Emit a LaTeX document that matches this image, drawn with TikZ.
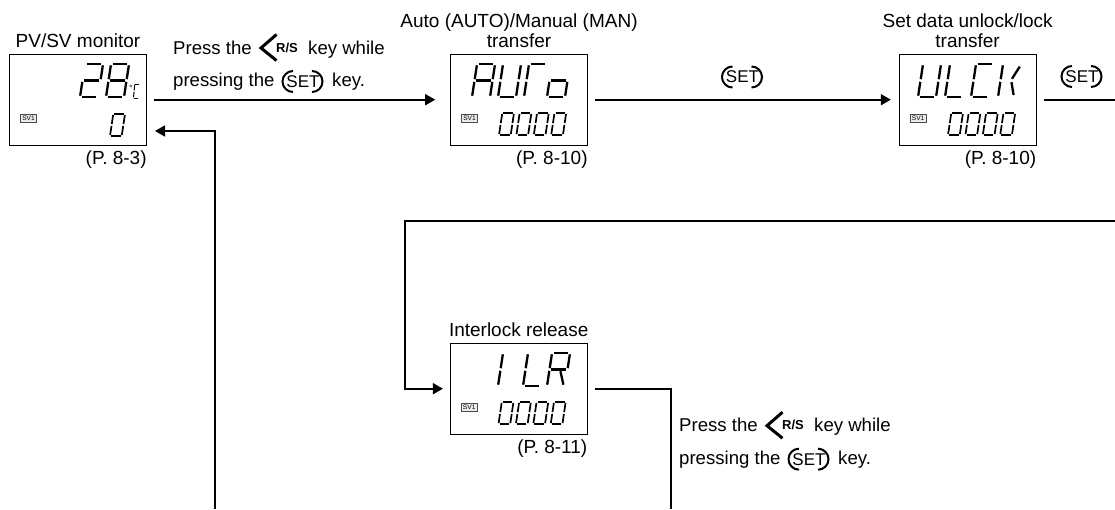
\documentclass[tikz,border=0pt]{standalone}
\usepackage{fontspec}
\setmainfont{Liberation Sans}
\usetikzlibrary{positioning, arrows.meta}

\tikzset{
    lcdbox/.style={draw, line width=0.9pt, minimum width=136.7pt, minimum height=91pt, inner sep=0pt},
    svbadge/.style={draw=black!70, fill=black!8, line width=0.7pt, minimum width=16.5pt, minimum height=8.5pt, inner sep=0pt, anchor=north west, font=\fontsize{6.6}{7}\selectfont},
    title/.style={inner sep=0pt, align=center, font=\fontsize{19}{20}\selectfont},
    pageref/.style={inner sep=0pt, font=\fontsize{19}{20}\selectfont},
    hint/.style={inner sep=0pt, anchor=base west, font=\fontsize{18.6}{20}\selectfont},
    keyname/.style={inner sep=0pt, font=\fontsize{17}{18}\selectfont},
    rsname/.style={inner sep=0pt, anchor=base west, font=\fontsize{13}{14}\selectfont\bfseries},
    flow/.style={line width=1.7pt, -{Triangle[length=10pt, width=11pt]}},
    plainflow/.style={line width=1.7pt},
    lcdseg/.style={line width=2.3pt}
}

% Segmente der Anzeige
\newcommand{\segA}{\draw[lcdseg] (.10,1) -- (.90,1);}
\newcommand{\segB}{\draw[lcdseg] (1,.96) -- (1,.54);}
\newcommand{\segC}{\draw[lcdseg] (1,.46) -- (1,.04);}
\newcommand{\segD}{\draw[lcdseg] (.10,0) -- (.90,0);}
\newcommand{\segE}{\draw[lcdseg] (0,.04) -- (0,.46);}
\newcommand{\segF}{\draw[lcdseg] (0,.54) -- (0,.96);}
\newcommand{\segG}{\draw[lcdseg] (.10,.5) -- (.90,.5);}
\newcommand{\segR}{\draw[lcdseg] (.62,.45) -- (.90,.04);}
\newcommand{\segK}{\draw[lcdseg] (.95,.92) -- (.62,.55); \draw[lcdseg] (.62,.45) -- (.85,.06);}

\newcommand{\bigchar}[2]{\begin{scope}[shift={(#1)}, xscale=18, yscale=-33, xslant=-.28]#2\end{scope}}
\newcommand{\smallchar}[2]{\begin{scope}[shift={(#1)}, xscale=11.7, yscale=-22, xslant=-.28, lcdseg/.style={line width=1.7pt}]#2\end{scope}}

% Taste SET
\newcommand{\setkey}[3]{
    \node[keyname] (#1) at (#2,#3) {SET};
    \draw[line width=2pt] ([xshift=-10pt, yshift=10.5pt]#1.center) arc (90:270:10.5pt);
    \draw[line width=2pt] ([xshift=9pt, yshift=10.5pt]#1.center) arc (90:-90:10.5pt);
}
% Tastenhinweis, zweizeilig
\newcommand{\keyhint}[3]{
    \node[hint] (#1a) at (#2,#3) {Press the};
    \draw[line width=3pt] (#2+103.5,#3-19.5) -- (#2+88,#3-6) -- (#2+103.5,#3+6.5);
    \node[rsname] (#1b) at (#2+103,#3-2) {R/S};
    \node[hint] (#1c) at (#2+135,#3) {key while};
    \node[hint] (#1d) at (#2,#3+32.5) {pressing the};
    \setkey{#1e}{#2+130}{#3+27.5}
    \node[hint] (#1f) at (#2+159,#3+32.5) {key.};
}

\begin{document}
\begin{tikzpicture}[x=1pt, y=-1pt]
    \useasboundingbox (0,0) rectangle (1115,509);

    % Anzeigen
    \node[lcdbox] (pvsv) at (78,99.7) {};
    \node[lcdbox] (autobox) at (519,99.7) {};
    \node[lcdbox] (ulck) at (967.6,99.7) {};
    \node[lcdbox] (ilr) at (518.7,388.7) {};

    \node[title, above=6pt of pvsv] (pvsvtitle) {PV/SV monitor};
    \node[title, above=6pt of autobox] (autotitle) {Auto (AUTO)/Manual (MAN)\\transfer};
    \node[title, above=6pt of ulck] (ulcktitle) {Set data unlock/lock\\transfer};
    \node[title, above=6pt of ilr] (ilrtitle) {Interlock release};

    \node[pageref, below left=5pt and 0pt of pvsv.south east] (pvsvpage) {(P. 8-3)};
    \node[pageref, below left=5pt and 0pt of autobox.south east] (autopage) {(P. 8-10)};
    \node[pageref, below left=5pt and 0pt of ulck.south east] (ulckpage) {(P. 8-10)};
    \node[pageref, below left=5pt and 0pt of ilr.south east] (ilrpage) {(P. 8-11)};

    \foreach \bx in {pvsv, autobox, ulck, ilr}
        \node[svbadge, below right=60pt and 10.7pt of \bx.north west] (\bx sv) {SV1};

    % obere Zeile
    \foreach \cx/\cy/\segs in {
        80/97/\segA\segB\segG\segE\segD,
        106/97/\segA\segB\segC\segD\segE\segF\segG,
        472/97/\segA\segB\segC\segE\segF\segG,
        498/97/\segB\segC\segD\segE\segF,
        524/97/\segA\segE\segF,
        547/97/\segC\segD\segE\segG,
        918/97/\segB\segC\segD\segE\segF,
        945/97/\segD\segE\segF,
        971/97/\segA\segD\segE\segF,
        998/97/\segE\segF\segK,
        498/386/\segE\segF,
        523/386/\segD\segE\segF,
        547/386/\segA\segB\segE\segF\segG\segR}
        {\bigchar{\cx,\cy}{\segs}}

    % untere Zeile
    \smallchar{110,136}{\segA\segB\segC\segD\segE\segF}
    \foreach \sx/\sy in {499/135, 948/135, 498.5/424}
        \foreach \n in {0,...,3}
            {\smallchar{\sx+\n*17.4,\sy}{\segA\segB\segC\segD\segE\segF}}

    % Einheit
    \node[inner sep=0pt, font=\fontsize{9}{9}\selectfont] (pvsvdeg) at (131,88) {°};
    \begin{scope}[shift={(133.5,98)}, xscale=4.5, yscale=-14, xslant=-.28, lcdseg/.style={line width=1pt}]
        \segA\segD\segE\segF
    \end{scope}

    % Tasten
    \keyhint{hinttop}{173}{54}
    \keyhint{hintlow}{679}{431.7}
    \setkey{setmid}{742.5}{77}
    \setkey{setend}{1082}{76.5}

    % Verbindungen
    \coordinate (rowend) at (1115,99.7);
    \coordinate (backend) at (1115,221);
    \coordinate (backturn) at (405,221);
    \coordinate (ilrdown) at (671,509);
    \coordinate (pvsvup) at (215,509);
    \coordinate (pvsvin) at (155,131);

    \draw[flow, shorten <=7.5pt, shorten >=15pt] (pvsv) -- (autobox);
    \draw[flow, shorten <=7.5pt, shorten >=8pt] (autobox) -- (ulck);
    \draw[plainflow, shorten <=7.5pt] (ulck) -- (rowend);
    \draw[flow, shorten >=7pt] (backend) -- (backturn) |- (ilr);
    \draw[plainflow, shorten <=7.5pt] (ilr) -| (ilrdown);
    \draw[flow] (pvsvup) |- (pvsvin);
\end{tikzpicture}
\end{document}
